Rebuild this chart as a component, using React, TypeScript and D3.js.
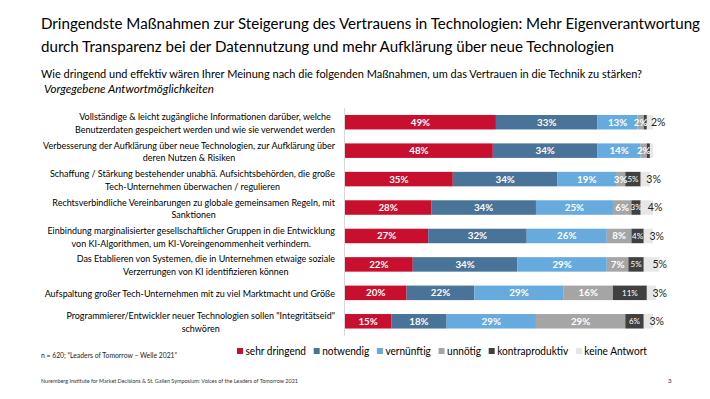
import * as d3 from "d3";
import React, { useEffect, useRef } from "react";

const categories = [
  ["Vollständige & leicht zugängliche Informationen darüber, welche", "Benutzerdaten gespeichert werden und wie sie verwendet werden"],
  ["Verbesserung der Aufklärung über neue Technologien, zur Aufklärung über", "deren Nutzen & Risiken"],
  ["Schaffung / Stärkung bestehender unabhä. Aufsichtsbehörden, die große", "Tech-Unternehmen überwachen / regulieren"],
  ["Rechtsverbindliche Vereinbarungen zu globale gemeinsamen Regeln, mit", "Sanktionen"],
  ["Einbindung marginalisierter gesellschaftlicher Gruppen in die Entwicklung", "von KI-Algorithmen, um KI-Voreingenommenheit verhindern."],
  ["Das Etablieren von Systemen, die in Unternehmen etwaige soziale", "Verzerrungen von KI identifizieren können"],
  ["Aufspaltung großer Tech-Unternehmen mit zu viel Marktmacht und Größe"],
  ["Programmierer/Entwickler neuer Technologien sollen  \"Integritätseid\"", "schwören"],
];

const seriesNames = ["sehr dringend", "notwendig", "vernünftig", "unnötig", "kontraproduktiv", "keine Antwort"];
const seriesColors = ["#c8102e", "#4a7399", "#67abde", "#a5a5a5", "#404040", "#e7e7e7"];

const sehrDringend = [49, 48, 35, 28, 27, 22, 20, 15];
const notwendig = [33, 34, 34, 34, 32, 34, 22, 18];
const vernuenftig = [13, 14, 19, 25, 26, 29, 29, 29];
const unnoetig = [2, 2, 3, 6, 8, 7, 16, 29];
const kontraproduktiv = [1, 1, 5, 3, 4, 5, 11, 6];
const keineAntwort = [2, 1, 3, 4, 3, 5, 3, 3];

const seriesValues = [sehrDringend, notwendig, vernuenftig, unnoetig, kontraproduktiv, keineAntwort];

const FONT = "Lato, 'Open Sans', sans-serif";

const App: React.FC = () => {
  const ref = useRef<SVGSVGElement>(null);

  useEffect(() => {
    if (!ref.current) return;
    document.body.style.margin = "0";
    const svg = d3.select(ref.current);
    svg.selectAll("*").remove();

    // squeeze text to a given width (Calibri is narrower than what we have)
    const squeeze = (sel: any, target: number) => {
      sel.attr("textLength", target).attr("lengthAdjust", "spacingAndGlyphs");
    };

    // title
    const t1 = svg.append("text").attr("x", 41).attr("y", 29).attr("font-size", 15.6)
      .attr("fill", "#000").attr("font-family", FONT)
      .text("Dringendste Maßnahmen zur Steigerung des Vertrauens in Technologien: Mehr Eigenverantwortung");
    squeeze(t1, 659);
    const t2 = svg.append("text").attr("x", 41).attr("y", 52).attr("font-size", 15.6)
      .attr("fill", "#000").attr("font-family", FONT)
      .text("durch Transparenz bei der Datennutzung und mehr Aufklärung über neue Technologien");
    squeeze(t2, 573);
    const s1 = svg.append("text").attr("x", 41).attr("y", 78).attr("font-size", 11)
      .attr("fill", "#000").attr("font-family", FONT)
      .text("Wie dringend und effektiv wären Ihrer Meinung nach die folgenden Maßnahmen, um das Vertrauen in die Technik zu stärken?");
    squeeze(s1, 601);
    const s2 = svg.append("text").attr("x", 44).attr("y", 93).attr("font-size", 11)
      .attr("font-style", "italic").attr("fill", "#000").attr("font-family", FONT)
      .text("Vorgegebene Antwortmöglichkeiten");
    squeeze(s2, 170);

    const rows = categories.map((c, i) => {
      const r: any = { key: i };
      seriesNames.forEach((s, j) => (r[s] = seriesValues[j][i]));
      return r;
    });
    const stacked = d3.stack<any>().keys(seriesNames)(rows);

    const x = d3.scaleLinear().domain([0, 100]).range([345, 653]);
    const y = d3.scaleBand<number>()
      .domain(categories.map((_, i) => i))
      .range([108, 335.5])
      .paddingInner(0.49)
      .paddingOuter(0.245);

    // axis line
    svg.append("line").attr("x1", 344.5).attr("x2", 344.5).attr("y1", 108).attr("y2", 336)
      .attr("stroke", "#d9d9d9").attr("stroke-width", 1);

    const g = svg.append("g");
    stacked.forEach((layer, j) => {
      g.selectAll(null)
        .data(layer)
        .enter()
        .append("rect")
        .attr("x", (d) => x(d[0]))
        .attr("y", (d, i) => y(i) || 0)
        .attr("width", (d) => x(d[1]) - x(d[0]))
        .attr("height", y.bandwidth())
        .attr("fill", seriesColors[j]);
    });

    // value labels
    stacked.forEach((layer, j) => {
      const last = j === seriesNames.length - 1;
      const dark = j === 4;
      g.selectAll(null)
        .data(layer.filter((d) => d[1] - d[0] >= 2))
        .enter()
        .append("text")
        .attr("x", (d) => (last ? x((d[0] + d[1]) / 2) + 1 : x((d[0] + d[1]) / 2)))
        .attr("y", (d) => (y((d.data as any).key) || 0) + y.bandwidth() / 2)
        .attr("dy", "0.36em")
        .attr("text-anchor", last ? "start" : "middle")
        .attr("font-family", FONT)
        .attr("font-size", last ? 10.5 : dark ? 8 : 9.8)
        .attr("font-weight", last || dark ? 400 : 700)
        .attr("fill", last ? "#222" : "#fff")
        .text((d) => `${d[1] - d[0]}%`);
    });

    // category labels: lines centered, block right-aligned
    const labelG = svg.append("g").attr("font-family", FONT).attr("font-size", 9.8).attr("fill", "#000");
    const probe = labelG.append("text").text(categories[1][0]);
    const K = 292 / (probe.node() as SVGTextElement).getComputedTextLength();
    probe.remove();
    const lineH = 12.8;
    categories.forEach((lines, i) => {
      const texts = lines.map((l) => labelG.append("text").text(l));
      const widths = texts.map((t) => (t.node() as SVGTextElement).getComputedTextLength() * K);
      const blockW = Math.max(...widths);
      const cx = 335 - blockW / 2;
      const cy = (y(i) || 0) + y.bandwidth() / 2 + 1;
      texts.forEach((t, k) => {
        t.attr("x", cx)
          .attr("y", cy + (k - (lines.length - 1) / 2) * lineH)
          .attr("dy", "0.35em")
          .attr("text-anchor", "middle");
        squeeze(t, widths[k]);
      });
    });

    // legend
    const legG = svg.append("g").attr("font-family", FONT).attr("font-size", 10.8).attr("fill", "#000");
    const legTexts = seriesNames.map((s) => legG.append("text").text(s));
    const legW = legTexts.map((t) => (t.node() as SVGTextElement).getComputedTextLength() * Math.min(1, K * 1.02));
    const sq = 6;
    const total = 647 - 237;
    const gap = (total - d3.sum(legW) - seriesNames.length * (sq + 2.5)) / (seriesNames.length - 1);
    let lx = 237;
    seriesNames.forEach((s, j) => {
      legG.append("rect").attr("x", lx).attr("y", 348).attr("width", sq).attr("height", sq)
        .attr("fill", seriesColors[j]);
      legTexts[j].attr("x", lx + sq + 2.5).attr("y", 355);
      squeeze(legTexts[j], legW[j]);
      lx += sq + 2.5 + legW[j] + gap;
    });

    // notes
    const n1 = svg.append("text").attr("x", 41).attr("y", 358).attr("font-size", 7.5)
      .attr("font-family", FONT).attr("fill", "#222")
      .text("n = 620; “Leaders of Tomorrow – Welle 2021”");
    squeeze(n1, 136);
    const f1 = svg.append("text").attr("x", 41).attr("y", 383).attr("font-size", 6.2)
      .attr("font-family", FONT).attr("fill", "#333")
      .text("Nuremberg Institute for Market Decisions & St. Gallen Symposium: Voices of the Leaders of Tomorrow 2021");
    squeeze(f1, 257);
    svg.append("text").attr("x", 668).attr("y", 383).attr("font-size", 6.2)
      .attr("font-family", FONT).attr("fill", "#333").text("3");
  }, []);

  return (
    <svg
      ref={ref}
      width={710}
      height={399}
      style={{ display: "block", position: "absolute", left: 0, top: 0, background: "#fff" }}
    />
  );
};

export default App;
